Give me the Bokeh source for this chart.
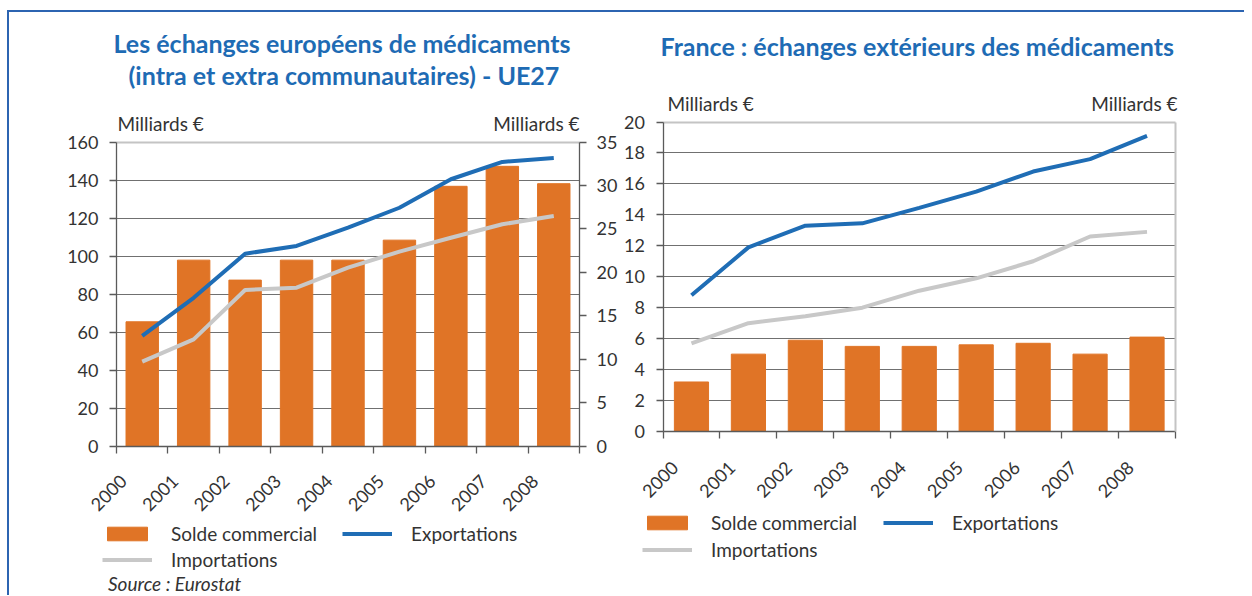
from math import pi
from bokeh.plotting import figure
from bokeh.models import (Range1d, LinearAxis, FixedTicker, Legend, LegendItem,
                          Label, Title, ColumnDataSource, Grid)
from bokeh.layouts import row
from bokeh.embed import file_html
from bokeh.resources import INLINE

# ---------------- data ----------------
years = ["2000", "2001", "2002", "2003", "2004", "2005", "2006", "2007", "2008"]

# Left chart: EU27 (lines on left axis, bars on right axis), milliards €
eu_solde = [14.3, 21.4, 19.1, 21.4, 21.4, 23.7, 29.9, 32.2, 30.2]
eu_export = [58.0, 78.0, 101.2, 105.3, 114.9, 125.4, 140.4, 149.5, 151.6]
eu_import = [44.4, 56.1, 82.1, 83.3, 93.9, 102.3, 109.6, 116.7, 121.0]
eu_left_ticks = [0, 20, 40, 60, 80, 100, 120, 140, 160]
eu_right_ticks = [0, 5, 10, 15, 20, 25, 30, 35]

# Right chart: France, milliards €
fr_solde = [3.2, 5.0, 5.9, 5.5, 5.5, 5.6, 5.7, 5.0, 6.1]
fr_export = [8.8, 11.9, 13.3, 13.45, 14.45, 15.5, 16.8, 17.6, 19.1]
fr_import = [5.7, 7.0, 7.45, 8.0, 9.1, 9.9, 11.0, 12.6, 12.9]
fr_ticks = [0, 2, 4, 6, 8, 10, 12, 14, 16, 18, 20]

title_left_1 = "Les échanges européens de médicaments"
title_left_2 = "(intra et extra communautaires) - UE27"
title_right = "France : échanges extérieurs des médicaments"
unit = "Milliards €"
source_text = "Source : Eurostat"
labels = ["Solde commercial", "Exportations", "Importations"]

# ---------------- style ----------------
FONT = "Lato"
TXT = "#333333"
AX = "#5a5a5a"
GRID = "#707070"
EDGE = "#c4c4c4"
ORANGE = "#E07426"
BLUE = "#1F6DB5"
GREY = "#C8C8C8"
TITLE_C = "#1E6BB4"
FRAME_C = "#2C64B1"

n = len(years)
xs = list(range(n))

# ---------------- page geometry (pixels) ----------------
TOP_BORDER = 80          # room above the frames for the titles
FIG_H = 583
FRAME_H = FIG_H - TOP_BORDER
FIG_Y0 = 12              # page y of the figures' top
FRAME_TOP = FIG_Y0 + TOP_BORDER
FRAME_BOT = FIG_Y0 + FIG_H


def ranges(fig_x0, fig_w, px_left, px_right, py_top_tick, py_zero, top_tick):
    """Data ranges so that the plotting area lands where the original has it."""
    u = (px_right - px_left) / n
    x0 = -0.5 - (px_left - fig_x0) / u
    x1 = x0 + fig_w / u
    v = (py_zero - py_top_tick) / top_tick
    y1 = (py_zero - FRAME_TOP) / v
    y0 = -(FRAME_BOT - py_zero) / v
    return (x0, x1), (y0, y1), u


def style_yaxis(ax, ticks, standoff=11):
    ax.ticker = FixedTicker(ticks=ticks)
    ax.bounds = (ticks[0], ticks[-1])
    ax.fixed_location = -0.5
    ax.axis_line_color = AX
    ax.axis_line_width = 1.3
    ax.major_tick_line_color = AX
    ax.major_tick_line_width = 1.3
    ax.major_tick_out = 7
    ax.major_tick_in = 0
    ax.minor_tick_line_color = None
    ax.major_label_text_font = FONT
    ax.major_label_text_font_size = "18px"
    ax.major_label_text_color = TXT
    ax.major_label_standoff = standoff


def style_xaxis(ax, standoff, shift):
    lab_pos = [i - 0.5 + shift for i in xs]
    ax.ticker = FixedTicker(ticks=lab_pos, minor_ticks=[i - 0.5 for i in range(n + 1)])
    ax.major_label_overrides = {lab_pos[i]: years[i] for i in xs}
    ax.major_label_orientation = pi / 4
    ax.fixed_location = 0
    ax.bounds = (-0.5, n - 0.5)
    ax.major_tick_line_color = None
    ax.major_tick_out = 0
    ax.major_tick_in = 0
    ax.minor_tick_line_color = AX
    ax.minor_tick_line_width = 1.3
    ax.minor_tick_out = 7
    ax.minor_tick_in = 0
    ax.axis_line_color = AX
    ax.axis_line_width = 1.3
    ax.major_label_text_font = FONT
    ax.major_label_text_font_size = "18px"
    ax.major_label_text_color = TXT
    ax.major_label_standoff = standoff


def limit_cross(g):
    if "cross_bounds" in g.properties():
        g.cross_bounds = (-0.5, n - 0.5)


def style_grid(p, ticks):
    p.xgrid.grid_line_color = None
    yg = p.ygrid[0]
    yg.grid_line_color = GRID
    yg.grid_line_width = 1.2
    yg.ticker = FixedTicker(ticks=ticks[1:-1])
    limit_cross(yg)
    edge = Grid(dimension=1, axis=p.yaxis[0], ticker=FixedTicker(ticks=[ticks[-1]]),
                grid_line_color=EDGE, grid_line_width=2)
    limit_cross(edge)
    p.add_layout(edge)


def make_legend(p, r_bar, r_exp, r_imp, loc, spacing):
    leg = Legend(items=[LegendItem(label=labels[0], renderers=[r_bar]),
                        LegendItem(label=labels[1], renderers=[r_exp]),
                        LegendItem(label=labels[2], renderers=[r_imp])],
                 location=loc, orientation="horizontal", ncols=2,
                 border_line_color=None, background_fill_alpha=0,
                 padding=0, margin=0, spacing=spacing,
                 glyph_width=50, glyph_height=17, label_standoff=19,
                 label_width=168, label_height=20,
                 label_text_font=FONT, label_text_font_size="19px",
                 label_text_color=TXT)
    p.add_layout(leg)


def unit_labels(p, ymax, yoff, xl, xr):
    p.add_layout(Label(x=-0.5, y=ymax, x_offset=xl, y_offset=yoff, text=unit,
                       text_baseline="bottom", text_align="left",
                       text_font=FONT, text_font_size="19px", text_color=TXT))
    p.add_layout(Label(x=n - 0.5, y=ymax, x_offset=xr, y_offset=yoff, text=unit,
                       text_baseline="bottom", text_align="right",
                       text_font=FONT, text_font_size="19px", text_color=TXT))


def title(text, offset):
    return Title(text=text, align="left", offset=offset, standoff=0,
                 text_font=FONT, text_font_size="25px", text_font_style="bold",
                 text_color=TITLE_C)


def spacer(standoff):
    return Title(text=" ", standoff=standoff, text_font_size="1px")


def base_figure(fig_w, xr, yr):
    p = figure(frame_width=fig_w, frame_height=FRAME_H, output_backend="svg",
               toolbar_location=None, tools="",
               x_range=Range1d(*xr), y_range=Range1d(*yr),
               min_border=0, min_border_top=TOP_BORDER)
    p.outline_line_color = None
    p.background_fill_color = "white"
    p.border_fill_color = "white"
    return p


# ================= left chart =================
L_X0, L_W = 9, 611
xr1, yr1, u1 = ranges(L_X0, L_W, 116, 579, 141.5, 445.5, eu_left_ticks[-1])
k = eu_right_ticks[-1] / eu_left_ticks[-1]

src_eu = ColumnDataSource(dict(x=xs, solde=eu_solde, exp=eu_export, imp=eu_import))
p1 = base_figure(L_W, xr1, yr1)
p1.extra_y_ranges = {"right": Range1d(yr1[0] * k, yr1[1] * k)}
style_grid(p1, eu_left_ticks)

b1 = p1.vbar(x="x", top="solde", width=0.63, source=src_eu, color=ORANGE,
             y_range_name="right")
l1e = p1.line(x="x", y="exp", source=src_eu, color=BLUE, line_width=4)
l1i = p1.line(x="x", y="imp", source=src_eu, color=GREY, line_width=4)

ax_r = LinearAxis(y_range_name="right")
p1.add_layout(ax_r, "right")
style_yaxis(p1.yaxis[0], eu_left_ticks)
style_yaxis(ax_r, eu_right_ticks, 10)
ax_r.fixed_location = n - 0.5
style_xaxis(p1.xaxis[0], 25, 7 / u1)

make_legend(p1, b1, l1e, l1i, (102 - L_X0, FRAME_BOT - 571), 3)
unit_labels(p1, eu_left_ticks[-1], 7, 1, 0)
p1.add_layout(Label(x=-0.5, y=0, x_offset=107.5 - 116, y_offset=-137, text=source_text,
                    text_baseline="middle", text_align="left",
                    text_font=FONT, text_font_size="19px", text_font_style="italic",
                    text_color=TXT))
p1.add_layout(spacer(0), "above")
p1.add_layout(title(title_left_2, 128 - L_X0), "above")
p1.add_layout(title(title_left_1, 113 - L_X0), "above")

# ================= right chart =================
R_X0, R_W = L_X0 + L_W, 624
xr2, yr2, u2 = ranges(R_X0, R_W, 662.5, 1175, 121.5, 431, fr_ticks[-1])

src_fr = ColumnDataSource(dict(x=xs, solde=fr_solde, exp=fr_export, imp=fr_import))
p2 = base_figure(R_W, xr2, yr2)
style_grid(p2, fr_ticks)

b2 = p2.vbar(x="x", top="solde", width=0.6, source=src_fr, color=ORANGE)
l2e = p2.line(x="x", y="exp", source=src_fr, color=BLUE, line_width=4)
l2i = p2.line(x="x", y="imp", source=src_fr, color=GREY, line_width=4)

style_yaxis(p2.yaxis[0], fr_ticks)
edge_r = LinearAxis(bounds=(0, fr_ticks[-1]), fixed_location=n - 0.5,
                    axis_line_color=EDGE, axis_line_width=2,
                    major_tick_line_color=None, minor_tick_line_color=None,
                    major_label_text_font_size="0px", ticker=FixedTicker(ticks=[]))
p2.add_layout(edge_r, "right")
style_xaxis(p2.xaxis[0], 26, 12 / u2)

make_legend(p2, b2, l2e, l2i, (642 - R_X0, FRAME_BOT - 561), 4)
unit_labels(p2, fr_ticks[-1], 7, 4.5, 2)
p2.add_layout(spacer(29), "above")
p2.add_layout(title(title_right, 660 - R_X0), "above")

layout = row(p1, p2, styles={"border-top": "2px solid " + FRAME_C,
                             "border-left": "2px solid " + FRAME_C,
                             "margin-left": "7px", "margin-top": "10px"})

open("out.html", "w").write(file_html(layout, INLINE))
